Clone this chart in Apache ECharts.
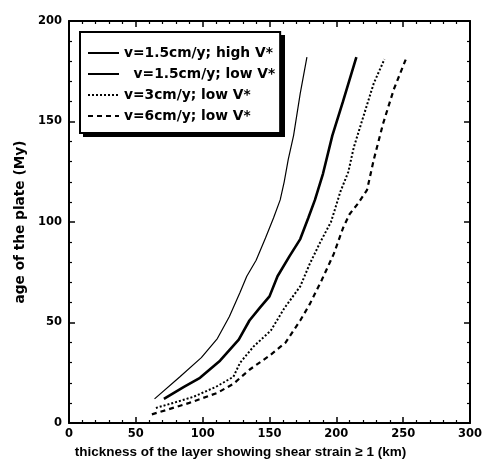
<!DOCTYPE html>
<html>
<head>
<meta charset="utf-8">
<script src="https://cdn.jsdelivr.net/npm/echarts@6/dist/echarts.min.js"></script>
<style>html,body{margin:0;padding:0;background:#fff;}#c{width:484px;height:462px;}</style>
</head>
<body>
<div id="c"></div>
<script>
var seriesNames = ['v=1.5cm/y; high V*', '  v=1.5cm/y; low V*', 'v=3cm/y; low V*', 'v=6cm/y; low V*'];
var xTicks = [0, 50, 100, 150, 200, 250, 300];
var yTicks = [0, 50, 100, 150, 200];
var highV15 = [[64,12],[83,23],[99,32.5],[111,42],[120,53],[128,65],[133,73],[140,81],[147,92],[153,102],[158,111],[161,120],[164,131],[168,143],[173,164],[178,182]];
var lowV15 = [[71,12],[86,18],[98,22.5],[113,31],[127,41.5],[135,51],[143,57.5],[150,63],[156,73],[165,83],[173,91.5],[179,102],[184,111],[190,124],[197,143],[205,160],[215,182]];
var lowV3 = [[65,7.5],[78,10],[93,13],[110,18],[123,23],[128,30],[138,38],[151,46],[161,57],[173,68],[180,79],[188,90],[196,100],[203,115],[209,125],[213,137],[220,152],[228,169],[236,181]];
var lowV6 = [[62,4.3],[73,6.5],[90,10],[111,15],[123,19.5],[135,26.5],[150,33.5],[162,40],[173,51],[180,59],[189,71],[198,84],[205,97],[210,104],[216,109],[223,116],[228,131],[235,149],[243,166],[252,181]];

var FONT = '"DejaVu Sans", sans-serif';
var FONT2 = '"Liberation Sans", Arial, sans-serif';
var chart = echarts.init(document.getElementById('c'), null, {renderer: 'canvas'});

function axisBase(pos, min, max, showLabel, margin, extra) {
  var a = {
    type: 'value', position: pos, min: min, max: max, interval: 50,
    axisLine: {show: true, onZero: false, lineStyle: {color: '#000', width: 2}},
    axisTick: {show: true, inside: true, length: 6, lineStyle: {color: '#000', width: 1.5}},
    minorTick: {show: true, splitNumber: 5, length: 3, lineStyle: {color: '#000', width: 1.2}},
    splitLine: {show: false},
    axisLabel: {show: showLabel, color: '#000', fontFamily: FONT, fontWeight: 'bold', fontSize: 11.5, margin: margin}
  };
  for (var k in extra) a[k] = extra[k];
  return a;
}

var option = {
  animation: false,
  backgroundColor: '#fff',
  color: ['#000', '#000', '#000', '#000'],
  grid: {left: 69, right: 14, top: 21, bottom: 39, containLabel: false, outerBoundsMode: 'none'},
  graphic: [{
    type: 'rect', z: 1, silent: true,
    shape: {x: 83, y: 35, width: 202, height: 102},
    style: {fill: '#000'}
  }],
  legend: {
    left: 80, top: 32, orient: 'vertical',
    data: seriesNames,
    itemWidth: 31, itemHeight: 14, itemGap: 7,
    padding: [14, 5, 10, 7],
    backgroundColor: '#fff', borderColor: '#000', borderWidth: 2, borderRadius: 0,
    itemStyle: {opacity: 0},
    textStyle: {color: '#000', fontFamily: FONT, fontWeight: 'bold', fontSize: 13.8}
  },
  xAxis: [
    axisBase('bottom', 0, 300, true, 5, {
      name: 'thickness of the layer showing shear strain \u2265 1 (km)',
      nameLocation: 'middle', nameGap: 22,
      nameTextStyle: {color: '#000', fontFamily: FONT2, fontWeight: 'bold', fontSize: 13.5, padding: [0, 58, 0, 0]}
    }),
    axisBase('top', 0, 300, false, 5, {})
  ],
  yAxis: [
    axisBase('left', 0, 200, true, 7, {
      name: 'age of the plate (My)',
      nameLocation: 'middle', nameGap: 37,
      nameTextStyle: {color: '#000', fontFamily: FONT, fontWeight: 'bold', fontSize: 13.7}
    }),
    axisBase('right', 0, 200, false, 7, {})
  ],
  series: [
    {name: seriesNames[0], type: 'line', data: highV15, showSymbol: false, symbol: 'none',
     itemStyle: {color: '#000'}, lineStyle: {color: '#000', width: 1.2, type: 'solid'}},
    {name: seriesNames[1], type: 'line', data: lowV15, showSymbol: false, symbol: 'none',
     itemStyle: {color: '#000'}, lineStyle: {color: '#000', width: 2.6, type: 'solid'}},
    {name: seriesNames[2], type: 'line', data: lowV3, showSymbol: false, symbol: 'none',
     itemStyle: {color: '#000'}, lineStyle: {color: '#000', width: 2, type: [2, 2]}},
    {name: seriesNames[3], type: 'line', data: lowV6, showSymbol: false, symbol: 'none',
     itemStyle: {color: '#000'}, lineStyle: {color: '#000', width: 2.2, type: [5, 4]}}
  ]
};
chart.setOption(option);
</script>
</body>
</html>
